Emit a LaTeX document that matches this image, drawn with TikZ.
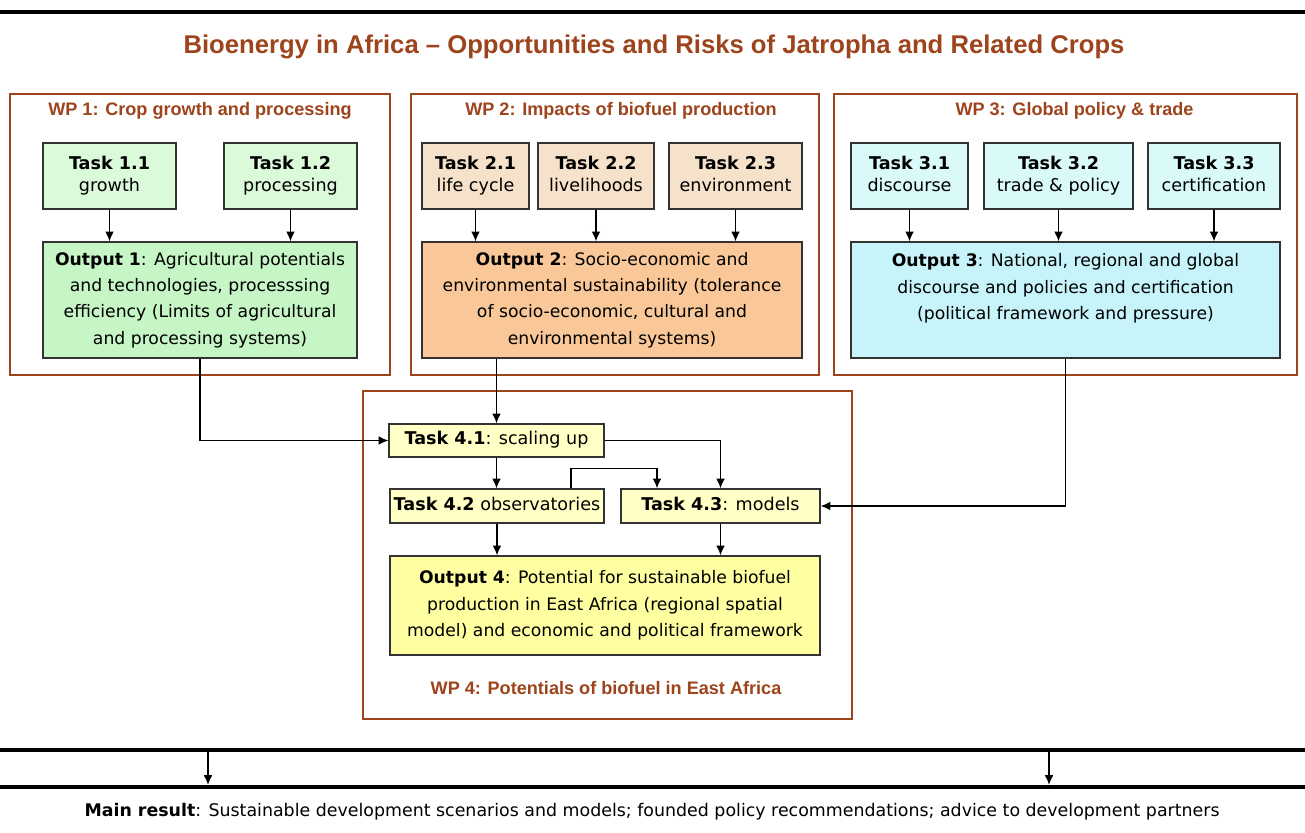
\documentclass[tikz,border=0pt]{standalone}
\usepackage{fontspec}
\setmainfont{DejaVu Sans}
\newfontfamily\titlefont{Liberation Sans}
\usetikzlibrary{calc, arrows.meta}
\tikzset{>={Latex[length=5.5pt,width=5pt]}}

\definecolor{wpbrown}{RGB}{158,68,28}
\definecolor{tgreen}{RGB}{218,250,218}
\definecolor{ogreen}{RGB}{198,245,198}
\definecolor{tpeach}{RGB}{246,226,202}
\definecolor{opeach}{RGB}{250,200,152}
\definecolor{tcyan}{RGB}{218,250,250}
\definecolor{ocyan}{RGB}{198,244,250}
\definecolor{tyellow}{RGB}{255,255,198}
\definecolor{oyellow}{RGB}{255,255,162}

\begin{document}
\begin{tikzpicture}[
  wpframe/.style={draw=wpbrown, line width=1.6pt},
  wplabel/.style={text=wpbrown, font=\titlefont\bfseries\fontsize{10.3}{12}\selectfont},
  taskbox/.style={draw=black!80, line width=0.8pt, align=center, inner sep=0pt,
    minimum height=1.32cm, font=\fontsize{10}{12.5}\selectfont},
  outbox/.style={draw=black!80, line width=0.8pt, align=center, inner sep=0pt,
    minimum height=2.32cm, font=\fontsize{9.8}{15}\selectfont},
  bar/.style={line width=2.3pt},
  link/.style={->, line width=0.8pt}
]
\fill[white] (0,0) rectangle (26.1,16.66);
\useasboundingbox (0,0) rectangle (26.1,16.66);

% title
\draw[bar] (0,16.42) -- (26.1,16.42);
\node[text=wpbrown, font=\titlefont\bfseries\fontsize{14.6}{17}\selectfont] (title) at (13.08,15.72)
  {Bioenergy in Africa – Opportunities and Risks of Jatropha and Related Crops};

% work packages
\draw[wpframe] (0.2,9.16) rectangle (7.8,14.78);
\node[wplabel] (wp1) at (4.0,14.44) {WP 1: Crop growth and processing};
\draw[wpframe] (8.22,9.16) rectangle (16.38,14.78);
\node[wplabel] (wp2) at (12.42,14.44) {WP 2: Impacts of biofuel production};
\draw[wpframe] (16.68,9.16) rectangle (25.94,14.78);
\node[wplabel] (wp3) at (21.49,14.44) {WP 3: Global policy \& trade};
\draw[wpframe] (7.26,2.28) rectangle (17.04,8.84);
\node[wplabel] (wp4) at (12.12,2.9) {WP 4: Potentials of biofuel in East Africa};

% WP 1
\node[taskbox, fill=tgreen, minimum width=2.66cm] (t11) at (2.19,13.14) {\strut\textbf{Task 1.1}\\growth\strut};
\node[taskbox, fill=tgreen, minimum width=2.66cm] (t12) at (5.81,13.14) {\strut\textbf{Task 1.2}\\processing\strut};
\node[outbox, fill=ogreen, minimum width=6.28cm] (o1) at (4.0,10.66)
  {\textbf{Output 1}: Agricultural potentials\\and technologies, processsing\\efficiency (Limits of agricultural\\and processing systems)};

% WP 2
\node[taskbox, fill=tpeach, minimum width=2.14cm] (t21) at (9.51,13.14) {\strut\textbf{Task 2.1}\\life cycle\strut};
\node[taskbox, fill=tpeach, minimum width=2.32cm] (t22) at (11.92,13.14) {\strut\textbf{Task 2.2}\\livelihoods\strut};
\node[taskbox, fill=tpeach, minimum width=2.66cm] (t23) at (14.71,13.14) {\strut\textbf{Task 2.3}\\environment\strut};
\node[outbox, fill=opeach, minimum width=7.6cm] (o2) at (12.24,10.66)
  {\textbf{Output 2}: Socio-economic and\\environmental sustainability (tolerance\\of socio-economic, cultural and\\environmental systems)};

% WP 3
\node[taskbox, fill=tcyan, minimum width=2.34cm] (t31) at (18.19,13.14) {\strut\textbf{Task 3.1}\\discourse\strut};
\node[taskbox, fill=tcyan, minimum width=2.98cm] (t32) at (21.17,13.14) {\strut\textbf{Task 3.2}\\trade \& policy\strut};
\node[taskbox, fill=tcyan, minimum width=2.64cm] (t33) at (24.28,13.14) {\strut\textbf{Task 3.3}\\certification\strut};
\node[outbox, fill=ocyan, minimum width=8.58cm] (o3) at (21.31,10.66)
  {\textbf{Output 3}: National, regional and global\\discourse and policies and certification\\(political framework and pressure)\\\mbox{}};

% WP 4
\node[taskbox, fill=tyellow, minimum width=4.3cm, minimum height=0.66cm] (t41) at (9.93,7.85) {\strut\textbf{Task 4.1}: scaling up};
\node[taskbox, fill=tyellow, minimum width=4.28cm, minimum height=0.68cm] (t42) at (9.94,6.54) {\strut\textbf{Task 4.2} observatories};
\node[taskbox, fill=tyellow, minimum width=3.98cm, minimum height=0.68cm] (t43) at (14.41,6.54) {\strut\textbf{Task 4.3}: models};
\node[outbox, fill=oyellow, minimum width=8.6cm, minimum height=1.98cm] (o4) at (12.1,4.55)
  {\textbf{Output 4}: Potential for sustainable biofuel\\production in East Africa (regional spatial\\model) and economic and political framework};

% tasks to outputs
\draw[link] (t11.south) -- (t11.south |- o1.north);
\draw[link] (t12.south) -- (t12.south |- o1.north);
\draw[link] (t21.south) -- (t21.south |- o2.north);
\draw[link] (t22.south) -- (t22.south |- o2.north);
\draw[link] (t23.south) -- (t23.south |- o2.north);
\draw[link] (t31.south) -- (t31.south |- o3.north);
\draw[link] (t32.south) -- (t32.south |- o3.north);
\draw[link] (t33.south) -- (t33.south |- o3.north);

% into WP 4
\draw[link] (o1.south) |- (t41.west);
\draw[link] (t41.north |- o2.south) -- (t41.north);
\draw[link] (o3.south) |- (t43.east);
\draw[link] (t41.south) -- (t41.south |- t42.north);
\draw[link] (t41.east) -| (t43.north);
\draw[link] ([xshift=1.48cm]t42.north) -- ++(0,0.4) -| ([xshift=-1.27cm]t43.north);
\draw[link] (t42.south) -- (t42.south |- o4.north);
\draw[link] (t43.south) -- (t43.south |- o4.north);

% main result
\draw[bar] (0,1.66) -- (26.1,1.66);
\draw[bar] (0,0.92) -- (26.1,0.92);
\coordinate (r1top) at (4.16,1.66);
\coordinate (r1bot) at (4.16,0.92);
\coordinate (r2top) at (20.98,1.66);
\coordinate (r2bot) at (20.98,0.92);
\draw[link, shorten <=1.2pt, shorten >=1.2pt] (r1top) -- (r1bot);
\draw[link, shorten <=1.2pt, shorten >=1.2pt] (r2top) -- (r2bot);
\node[font=\fontsize{9.9}{11}\selectfont] (main) at (13.04,0.42)
  {\textbf{Main result}: Sustainable development scenarios and models; founded policy recommendations; advice to development partners};
\end{tikzpicture}
\end{document}
